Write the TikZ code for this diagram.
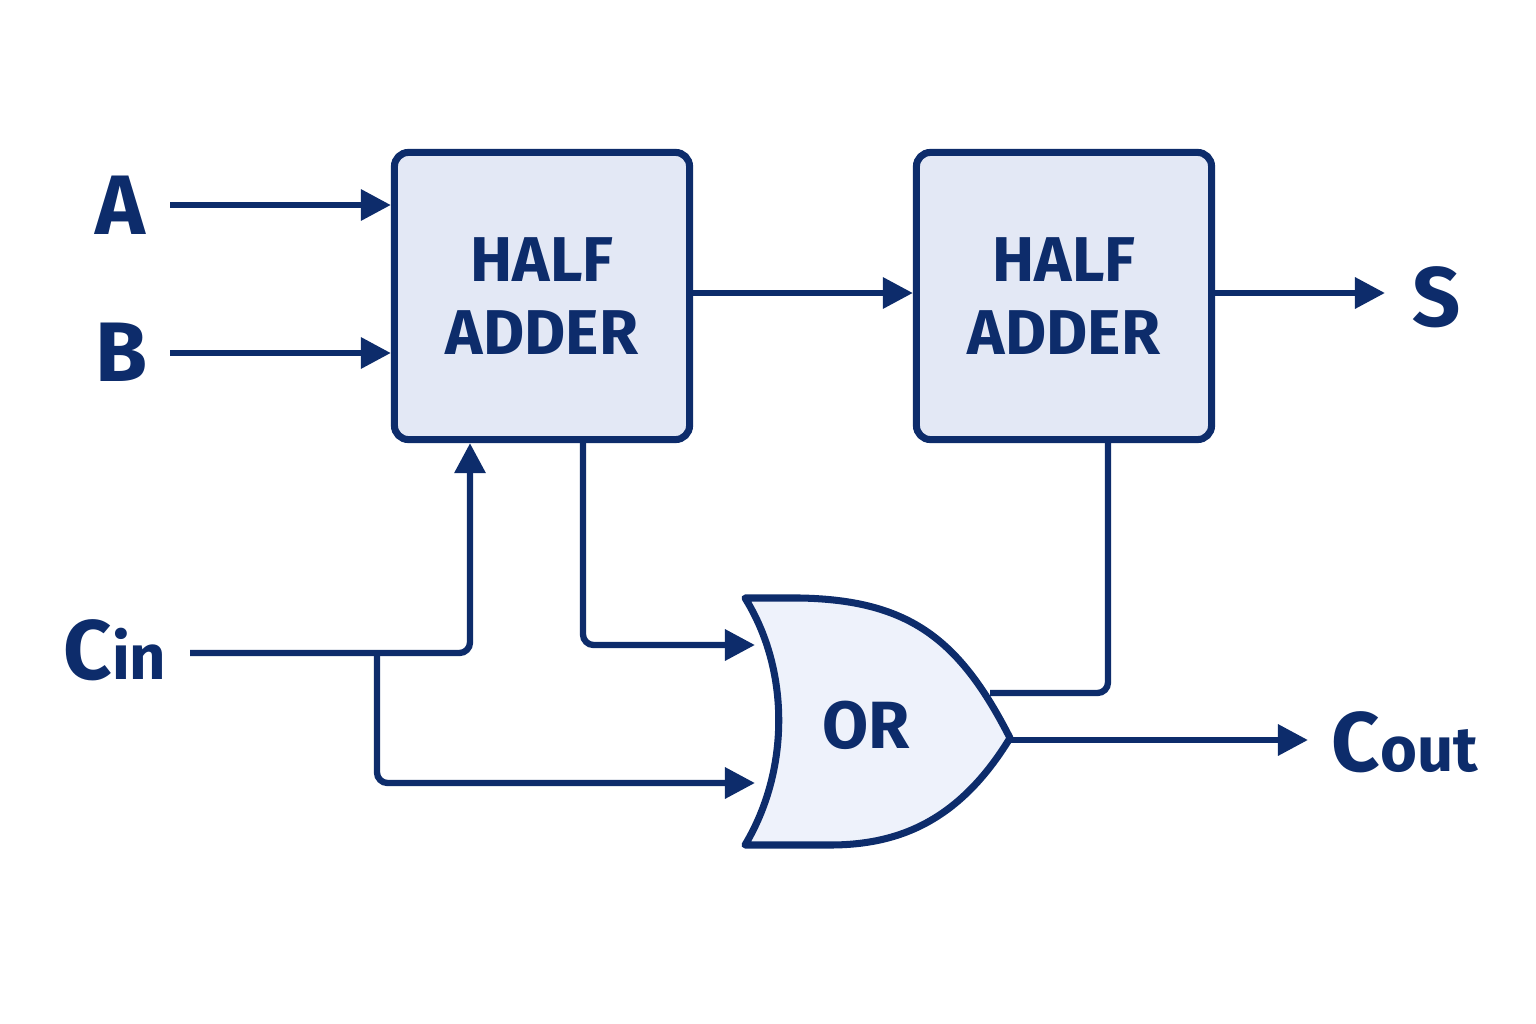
\documentclass[tikz,border=0pt]{standalone}
\usepackage{fontspec}
\setmainfont{Fira Sans}
\usetikzlibrary{arrows.meta, positioning}
\definecolor{navy}{HTML}{0D2C6B}
\definecolor{boxfill}{HTML}{E3E8F5}
\definecolor{gatefill}{HTML}{EEF2FB}
\tikzset{
  blk/.style={draw=navy, fill=boxfill, line width=2pt, rounded corners=4pt,
    minimum width=2.95cm, minimum height=2.87cm, align=center,
    font=\fontsize{18}{21}\selectfont\bfseries, text=navy},
  lbl/.style={font=\fontsize{24}{28}\selectfont\bfseries, text=navy, inner sep=0pt},
  wire/.style={draw=navy, line width=1.8pt, rounded corners=3pt},
  sig/.style={wire, -{Triangle[length=3mm,width=3mm]}},
}
\begin{document}
\begin{tikzpicture}[x=0.01cm, y=-0.01cm]
\useasboundingbox (0,0) rectangle (1536,1024);
% blocks
\node[blk] (ha1) at (542,296) {HALF\\ADDER};
\node[blk] (ha2) at (1064,296) {HALF\\ADDER};
% OR gate
\draw[navy, fill=gatefill, line width=2pt, line join=round]
  (745,598) -- (800,598) .. controls (910,600) and (960,640) .. (1010,738)
  .. controls (960,820) and (900,845) .. (830,845) -- (745,845)
  .. controls (790,770) and (790,670) .. (745,598) -- cycle;
\node[font=\fontsize{19}{22}\selectfont\bfseries, text=navy] (or) at (866,725) {OR};
\coordinate (orA) at (755,645);
\coordinate (orB) at (755,783);
\coordinate (orC) at (990,693);
\coordinate (orY) at (1010,740);
% labels
\node[lbl] (a) at (120,205) {A};
\node[lbl] (b) at (122,352) {B};
\node[lbl] (cin) at (115,650) {C{\fontsize{18}{21}\selectfont in}};
\node[lbl] (s) at (1437,297) {S};
\node[lbl] (cout) at (1405,742) {C{\fontsize{18}{21}\selectfont out}};
% wires
\draw[sig] (170,205) -- (ha1.west |- 0,205);
\draw[sig] (170,353) -- (ha1.west |- 0,353);
\draw[sig] (ha1.east |- 0,293) -- (ha2.west |- 0,293);
\draw[sig] (ha2.east |- 0,293) -- (1385,293);
\draw[sig] (190,653) -- (470,653) -- (ha1.south -| 470,0);
\draw[sig] (377,653) -- (377,783) -- (orB);
\draw[sig] (ha1.south -| 583,0) -- (583,645) -- (orA);
\draw[wire] (ha2.south -| 1108,0) -- (1108,693) -- (orC);
\draw[sig] (orY) -- (1308,740);
\end{tikzpicture}
\end{document}
